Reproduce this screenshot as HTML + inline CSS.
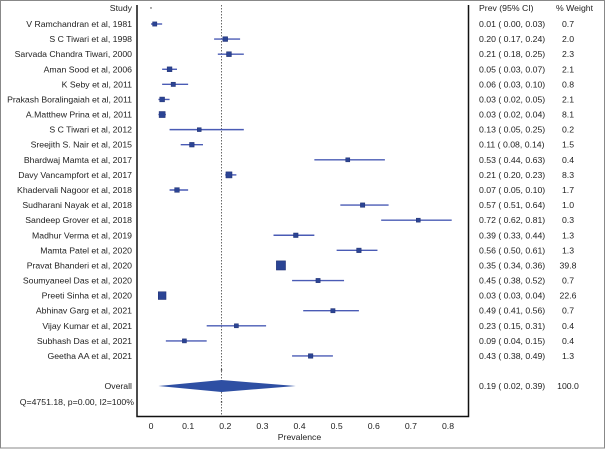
<!DOCTYPE html>
<html><head><meta charset="utf-8"><style>
body{margin:0;background:#fff}
svg text{font-family:"Liberation Sans",Arial,sans-serif;font-size:8.7px;fill:#222}
</style></head><body>
<svg id="c" width="605" height="449" xmlns="http://www.w3.org/2000/svg">
<rect x="0.5" y="0.5" width="604" height="447.5" fill="#fff" stroke="#888"/>
<g id="g"></g>
</svg>
<script>
const studies=["V Ramchandran et al, 1981","S C Tiwari et al, 1998","Sarvada Chandra Tiwari, 2000","Aman Sood et al, 2006","K Seby et al, 2011","Prakash Boralingaiah et al, 2011","A.Matthew Prina et al, 2011","S C Tiwari et al, 2012","Sreejith S. Nair et al, 2015","Bhardwaj Mamta et al, 2017","Davy Vancampfort et al, 2017","Khadervali Nagoor et al, 2018","Sudharani Nayak et al, 2018","Sandeep Grover et al, 2018","Madhur Verma et al, 2019","Mamta Patel et al, 2020","Pravat Bhanderi et al, 2020","Soumyaneel Das et al, 2020","Preeti Sinha et al, 2020","Abhinav Garg et al, 2021","Vijay Kumar et al, 2021","Subhash Das et al, 2021","Geetha AA et al, 2021"];
const est=[0.01,0.20,0.21,0.05,0.06,0.03,0.03,0.13,0.11,0.53,0.21,0.07,0.57,0.72,0.39,0.56,0.35,0.45,0.03,0.49,0.23,0.09,0.43];
const lo=[0.00,0.17,0.18,0.03,0.03,0.02,0.02,0.05,0.08,0.44,0.20,0.05,0.51,0.62,0.33,0.50,0.34,0.38,0.03,0.41,0.15,0.04,0.38];
const hi=[0.03,0.24,0.25,0.07,0.10,0.05,0.04,0.25,0.14,0.63,0.23,0.10,0.64,0.81,0.44,0.61,0.36,0.52,0.04,0.56,0.31,0.15,0.49];
const wt=[0.7,2.0,2.3,2.1,0.8,2.1,8.1,0.2,1.5,0.4,8.3,1.7,1.0,0.3,1.3,1.3,39.8,0.7,22.6,0.7,0.4,0.4,1.3];
const overall=[0.19,0.02,0.39];
const ticks=[0,0.1,0.2,0.3,0.4,0.5,0.6,0.7,0.8];
const X=v=>151+v*371.25, Y=i=>24+i*15.09;
const g=document.getElementById('g'),NS='http://www.w3.org/2000/svg';
function mk(t,a,txt){const e=document.createElementNS(NS,t);for(const k in a)e.setAttribute(k,a[k]);if(txt!=null)e.textContent=txt;g.appendChild(e);return e;}
const fmt=v=>v.toFixed(2);
let e;
e=mk('path',{d:'M137,5V416.5H468.5V5',fill:'none',stroke:'#111','stroke-width':1.5});


e=mk('line',{x1:X(overall[0]),x2:X(overall[0]),y1:5,y2:416,stroke:'#444','stroke-width':0.8,'stroke-dasharray':'1.5,1.5'});


e=mk('text',{x:132,y:11,'text-anchor':'end'},'Study');


e=mk('text',{x:479,y:11},'Prev (95% CI)');


e=mk('text',{x:556,y:11},'% Weight');


e=mk('circle',{cx:X(0),cy:8,r:0.7,fill:'#333'});


studies.forEach((s,i)=>{const y=Y(i);
 e=mk('text',{x:132,y:y+3,'text-anchor':'end'},s);
 
 
 e=mk('line',{x1:X(lo[i]),x2:X(hi[i]),y1:y,y2:y,stroke:'#4a5bb5','stroke-width':1.4});
 
 
 const sz=3.5+Math.sqrt(wt[i])*0.9;
 e=mk('rect',{x:X(est[i])-sz/2,y:y-sz/2,width:sz,height:sz,fill:'#2b4494',stroke:'#1f2f70','stroke-width':0.5});
 
 
 e=mk('text',{x:479,y:y+3,'xml:space':'preserve'},fmt(est[i])+' (  '+fmt(lo[i])+',  '+fmt(hi[i])+')');
 
 
 e=mk('text',{x:568,y:y+3,'text-anchor':'middle'},wt[i].toFixed(1));
 
 
});
const oy=386;
e=mk('circle',{cx:X(overall[0]),cy:370,r:0.8,fill:'#333'});


e=mk('polygon',{points:`${X(overall[1])},${oy} ${X(overall[0])},${oy-6} ${X(overall[2])},${oy} ${X(overall[0])},${oy+6}`,fill:'#2e4fa3'});


e=mk('text',{x:132,y:oy+3,'text-anchor':'end'},'Overall');


e=mk('text',{x:479,y:oy+3,'xml:space':'preserve'},fmt(overall[0])+' (  '+fmt(overall[1])+',  '+fmt(overall[2])+')');


e=mk('text',{x:568,y:oy+3,'text-anchor':'middle'},'100.0');


e=mk('text',{x:134,y:405,'text-anchor':'end'},'Q=4751.18, p=0.00, I2=100%');


e=mk('circle',{cx:X(overall[0]),cy:402,r:0.8,fill:'#333'});


ticks.forEach(t=>{
 e=mk('text',{x:X(t),y:429,'text-anchor':'middle'},String(t));
 
 
});
e=mk('text',{x:X(0.4),y:440,'text-anchor':'middle'},'Prevalence');


</script>
</body></html>
